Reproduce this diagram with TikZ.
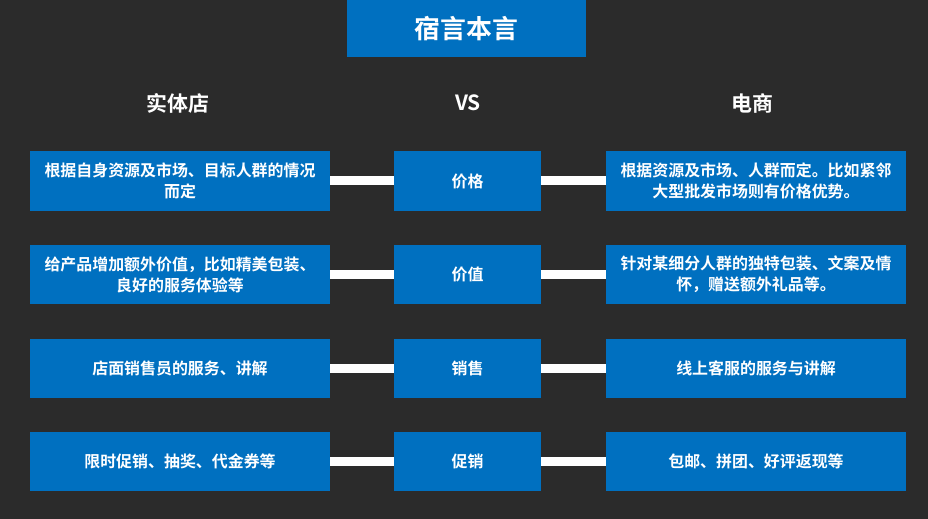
\documentclass[tikz,border=0pt]{standalone}
\usepackage{fontspec}
\newfontfamily\cjk[BoldFont={Noto Sans CJK SC Bold}]{Noto Sans CJK SC}
\definecolor{bg}{HTML}{2B2B2B}
\definecolor{bl}{HTML}{0070C0}
\begin{document}
\begin{tikzpicture}[x=1bp,y=-1bp,
  box/.style={fill=bl,draw=none,inner sep=0,align=center,text=white,font=\cjk\bfseries\fontsize{16}{22}\selectfont},
  hdr/.style={text=white,font=\cjk\bfseries\fontsize{21}{24}\selectfont},
  bar/.style={white,line width=9bp}]
\fill[bg] (0,0) rectangle (928,519);
\useasboundingbox (0,0) rectangle (928,519);
\node[box,minimum width=239bp,minimum height=57bp,font=\cjk\bfseries\fontsize{26}{30}\selectfont] (t) at (466.5,28.5) {宿言本言};
\node[hdr] (h1) at (178,103) {实体店};
\node[hdr] (h2) at (468,103) {VS};
\node[hdr] (h3) at (752,103) {电商};
\foreach \n/\y/\h/\l/\m/\r in {
 1/181/60/{根据自身资源及市场、目标人群的情况\\[-1pt]而定}/价格/{根据资源及市场、人群而定。比如紧邻\\[-1pt]大型批发市场则有价格优势。},
 2/274.5/59/{给产品增加额外价值，比如精美包装、\\[-1pt]良好的服务体验等}/价值/{针对某细分人群的独特包装、文案及情\\[-1pt]怀，赠送额外礼品等。},
 3/368.5/59/{店面销售员的服务、讲解}/销售/{线上客服的服务与讲解},
 4/461.5/59/{限时促销、抽奖、代金券等}/促销/{包邮、拼团、好评返现等}}{
 \node[box,minimum width=300bp,minimum height=\h bp] (l\n) at (180,\y) {\l};
 \node[box,minimum width=147bp,minimum height=\h bp] (m\n) at (467.5,\y) {\m};
 \node[box,minimum width=300bp,minimum height=\h bp] (r\n) at (756,\y) {\r};
 \draw[bar] (l\n.east) -- (m\n.west);
 \draw[bar] (m\n.east) -- (r\n.west);
}
\end{tikzpicture}
\end{document}
